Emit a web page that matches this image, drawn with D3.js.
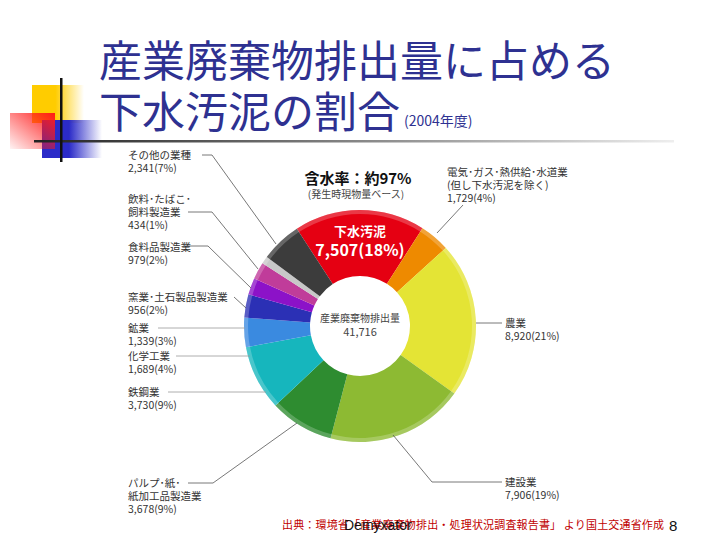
<!DOCTYPE html>
<html>
<head>
<meta charset="utf-8">
<script src="https://cdn.jsdelivr.net/npm/d3@7"></script>
<style>
  body {margin:0; background:#fff;}
  svg {display:block; font-family:"Noto Sans CJK JP", sans-serif;}
</style>
</head>
<body>
<svg width="720" height="540"></svg>
<script>
// 業種 (clockwise from 下水汚泥)
var names = ["下水汚泥", "電気・ガス・熱供給・水道業", "農業", "建設業", "パルプ・紙・紙加工品製造業",
             "鉄鋼業", "化学工業", "鉱業", "窯業・土石製品製造業", "食料品製造業", "飲料・たばこ・飼料製造業", "その他の業種"];
var values = [7507, 1729, 8920, 7906, 3678, 3730, 1689, 1339, 956, 979, 434, 2341];
var shares = [18, 4, 21, 19, 9, 9, 4, 3, 2, 2, 1, 7];
var colors = ["#e50012", "#ee8a00", "#e4e435", "#8dba33", "#2e8c30", "#16b6bd", "#3a8ae0",
              "#2b30b5", "#8c12c8", "#c03c9a", "#c8c8c8", "#3c3c3c"];
var labelLines = [
  null,
  ["電気･ガス･熱供給･水道業", "(但し下水汚泥を除く)"],
  ["農業"],
  ["建設業"],
  ["パルプ･紙･", "紙加工品製造業"],
  ["鉄鋼業"],
  ["化学工業"],
  ["鉱業"],
  ["窯業･土石製品製造業"],
  ["食料品製造業"],
  ["飲料･たばこ･", "飼料製造業"],
  ["その他の業種"]
];
// label position (x, baseline of first line) and leader path
var labelPos = [
  null,
  {x: 447, y: 176, pts: [[463, 205], [437, 233]]},
  {x: 505, y: 327, pts: [[502, 323], [476, 323]]},
  {x: 505, y: 486, pts: [[502, 482], [432, 482], [393, 435]]},
  {x: 128, y: 487, pts: [[188, 483], [213, 483], [297, 423]]},
  {x: 128, y: 396, pts: [[168, 392], [266, 392]]},
  {x: 128, y: 360, pts: [[176, 356], [250, 356]]},
  {x: 128, y: 332, pts: [[158, 328], [245, 328]]},
  {x: 128, y: 301, pts: [[234, 297], [246, 308]]},
  {x: 128, y: 251, pts: [[185, 246], [208, 246], [251, 288]]},
  {x: 128, y: 203, pts: [[188, 212], [212, 212], [258, 269]]},
  {x: 128, y: 159, pts: [[202, 155], [212, 155], [276, 244]]}
];
var total = 41716;

var svg = d3.select("svg");
var defs = svg.append("defs");

// --- slide decoration ---
function grad(id, c) {
  var g = defs.append("linearGradient").attr("id", id);
  g.append("stop").attr("offset", "0%").attr("stop-color", c).attr("stop-opacity", 1);
  g.append("stop").attr("offset", "45%").attr("stop-color", c).attr("stop-opacity", 1);
  g.append("stop").attr("offset", "100%").attr("stop-color", c).attr("stop-opacity", 0);
}
grad("gy", "#ffcc00");
grad("gb", "#2b2bc8");
var gr = defs.append("linearGradient").attr("id", "gr").attr("x1", "1").attr("y1", "0").attr("x2", "0").attr("y2", "1");
gr.append("stop").attr("offset", "0%").attr("stop-color", "#ff1a1a");
gr.append("stop").attr("offset", "100%").attr("stop-color", "#ff1a1a").attr("stop-opacity", 0.05);
var gl = defs.append("linearGradient").attr("id", "gl");
gl.append("stop").attr("offset", "0%").attr("stop-color", "#222");
gl.append("stop").attr("offset", "60%").attr("stop-color", "#999");
gl.append("stop").attr("offset", "100%").attr("stop-color", "#eee");

svg.append("rect").attr("x", 32).attr("y", 85).attr("width", 52).attr("height", 38).attr("fill", "url(#gy)");
svg.append("rect").attr("x", 42).attr("y", 120).attr("width", 60).attr("height", 38).attr("fill", "url(#gb)");
svg.append("rect").attr("x", 10).attr("y", 113).attr("width", 45).attr("height", 36).attr("fill", "url(#gr)");
svg.append("rect").attr("x", 34).attr("y", 140).attr("width", 640).attr("height", 2.5).attr("fill", "url(#gl)");
svg.append("rect").attr("x", 60).attr("y", 78).attr("width", 2.5).attr("height", 84).attr("fill", "#111");

// --- title ---
svg.append("text").attr("x", 99).attr("y", 77).attr("font-size", 43).attr("fill", "#2e3191")
  .text("産業廃棄物排出量に占める");
svg.append("text").attr("x", 99).attr("y", 128).attr("font-size", 43).attr("fill", "#2e3191")
  .text("下水汚泥の割合");
svg.append("text").attr("x", 404).attr("y", 126).attr("font-size", 14).attr("fill", "#2e3191")
  .text("(2004年度)");

// --- donut ---
var cx = 360, cy = 326, rOut = 116, rIn = 50;
var g = svg.append("g").attr("transform", "translate(" + cx + "," + cy + ")");
var pie = d3.pie().sort(null).value(function(d) { return d; })
  .startAngle(-33 * Math.PI / 180).endAngle((360 - 33) * Math.PI / 180);
var arcs = pie(values);
var arc = d3.arc().innerRadius(rIn).outerRadius(rOut);
var rim = d3.arc().innerRadius(rOut - 4).outerRadius(rOut);

g.selectAll("path.slice").data(arcs).enter().append("path")
  .attr("class", "slice")
  .attr("d", arc)
  .attr("fill", function(d, i) { return colors[i]; });
g.selectAll("path.rim").data(arcs).enter().append("path")
  .attr("class", "rim")
  .attr("d", rim)
  .attr("fill", "#fff").attr("opacity", 0.22);

// center
g.append("text").attr("y", -4).attr("text-anchor", "middle").attr("font-size", 10).attr("fill", "#444")
  .text("産業廃棄物排出量");
g.append("text").attr("y", 10).attr("text-anchor", "middle").attr("font-size", 11).attr("fill", "#444")
  .text(d3.format(",")(total));

// 下水汚泥 label inside red slice
g.append("text").attr("y", -90).attr("text-anchor", "middle").attr("font-size", 13).attr("font-weight", "bold")
  .attr("fill", "#fff").text(names[0]);
g.append("text").attr("y", -70).attr("text-anchor", "middle").attr("font-size", 16).attr("font-weight", "bold")
  .attr("fill", "#fff").text(d3.format(",")(values[0]) + "(" + shares[0] + "%)");

// 含水率
svg.append("text").attr("x", 358).attr("y", 184).attr("text-anchor", "middle").attr("font-size", 15)
  .attr("font-weight", "bold").attr("fill", "#111").text("含水率：約97%");
svg.append("text").attr("x", 356).attr("y", 198).attr("text-anchor", "middle").attr("font-size", 10)
  .attr("fill", "#444").text("(発生時現物量ベース)");

// --- outside labels ---
var line = d3.line();
labelPos.forEach(function(p, i) {
  if (!p) return;
  svg.append("path").attr("d", line(p.pts)).attr("fill", "none")
    .attr("stroke", i < 5 || i > 7 ? "#555" : "#999").attr("stroke-width", 0.8);
  var lines = labelLines[i].concat([d3.format(",")(values[i]) + "(" + shares[i] + "%)"]);
  var t = svg.append("text").attr("x", p.x).attr("y", p.y).attr("font-size", 10.5).attr("fill", "#333");
  lines.forEach(function(s, k) {
    t.append("tspan").attr("x", p.x).attr("dy", k ? 13 : 0).text(s);
  });
});

// --- footer ---
svg.append("text").attr("x", 282).attr("y", 529).attr("font-size", 11).attr("fill", "#c00000")
  .attr("textLength", 382)
  .text("出典：環境省「産業廃棄物排出・処理状況調査報告書」 より国土交通省作成");
svg.append("text").attr("x", 344).attr("y", 530).attr("font-size", 14).attr("fill", "#111")
  .attr("font-family", "Liberation Sans, sans-serif").text("Demyxator");
svg.append("text").attr("x", 669).attr("y", 531).attr("font-size", 15).attr("fill", "#111")
  .attr("font-family", "Liberation Sans, sans-serif").text("8");
</script>
</body>
</html>
